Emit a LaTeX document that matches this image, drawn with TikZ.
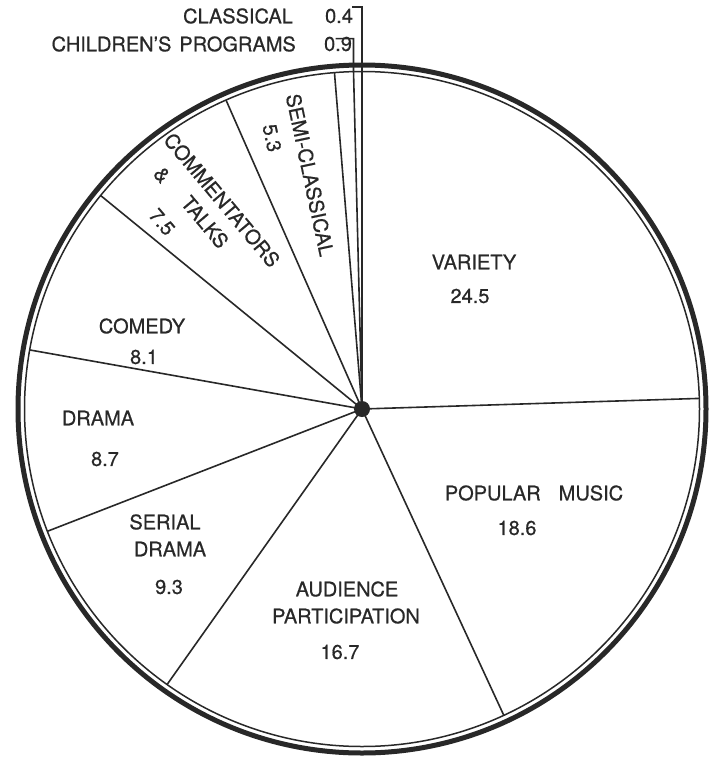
\documentclass[tikz,border=0pt]{standalone}
\usepackage{fontspec}
\setmainfont{TeX Gyre Heros}[FakeBold=0.6]
\definecolor{ink}{RGB}{40,40,40}
\begin{document}
\begin{tikzpicture}[x=1pt,y=-1pt,
  lbl/.style={font=\fontsize{20}{25}\selectfont, inner sep=0pt, text=ink, align=center},
  edge/.style={draw=ink, line width=1.6pt},
  rim/.style={draw=ink, line width=5pt},
  innerrim/.style={draw=ink, line width=1.5pt}]
\useasboundingbox (0,0) rectangle (715,758);
\fill[white] (0,0) rectangle (715,758);
\coordinate (c) at (362,409);
% rims
\draw[rim] (c) circle[radius=344pt];
\draw[innerrim] (c) circle[radius=337.5pt];
% slice boundaries
\foreach \a/\n in {1.8/b1, -65.16/b2, -125.28/b3, -158.76/b4, 169.92/b5, 140.76/b6, 113.76/b7, 94.68/b8, 91.44/b9}
  \path (c) ++(\a:337.5pt) coordinate (\n);
\foreach \n in {b1,b2,b3,b4,b5,b6,b7,b8}
  \draw[edge] (c) -- (\n);
% leaders
\coordinate (lc1) at (362,7);
\coordinate (lc2) at (352,7);
\draw[edge] (c) -- (lc1) -- (lc2);
\path (b9) ++(0,-33) coordinate (lk2);
\path (lk2) ++(-18,0) coordinate (lk3);
\draw[edge] (c) -- (b9) -- (lk2) -- (lk3);
% center dot
\node[circle, fill=ink, minimum size=16pt, inner sep=0pt] (ctr) at (c) {};
% labels
\node[lbl] (var) at (474,262) {VARIETY};
\node[lbl] (varv) at (470,296) {24.5};
\node[lbl] (pop) at (534,493) {POPULAR\hspace{0.9em}MUSIC};
\node[lbl] (popv) at (517,528) {18.6};
\node[lbl] (aud) at (347,589) {AUDIENCE};
\node[lbl] (par) at (346,616) {PARTICIPATION};
\node[lbl] (audv) at (340,652) {16.7};
\node[lbl] (ser) at (165,522) {SERIAL};
\node[lbl] (serd) at (170,549) {DRAMA};
\node[lbl] (serv) at (169,587) {9.3};
\node[lbl] (dra) at (98,418) {DRAMA};
\node[lbl] (drav) at (105,459) {8.7};
\node[lbl] (com) at (142,326) {COMEDY};
\node[lbl] (comv) at (144,357) {8.1};
\node[lbl, rotate=-50] (cmt) at (222,200) {COMMENTATORS};
\node[lbl, rotate=-50] (amp) at (162,175) {\&};
\node[lbl, rotate=-50] (tlk) at (205,222) {TALKS};
\node[lbl, rotate=-50] (cmtv) at (162,222) {7.5};
\node[lbl, rotate=-78] (semi) at (310,175) {SEMI-CLASSICAL};
\node[lbl, rotate=-78] (semiv) at (272,138) {5.3};
\node[lbl] (cla) at (238,16) {CLASSICAL};
\node[lbl] (clav) at (339,16) {0.4};
\node[lbl, anchor=east] (chi) at (296,44) {CHILDREN'S\hspace{0.4em}PROGRAMS};
\node[lbl] (chiv) at (338,44) {0.9};
\end{tikzpicture}
\end{document}
